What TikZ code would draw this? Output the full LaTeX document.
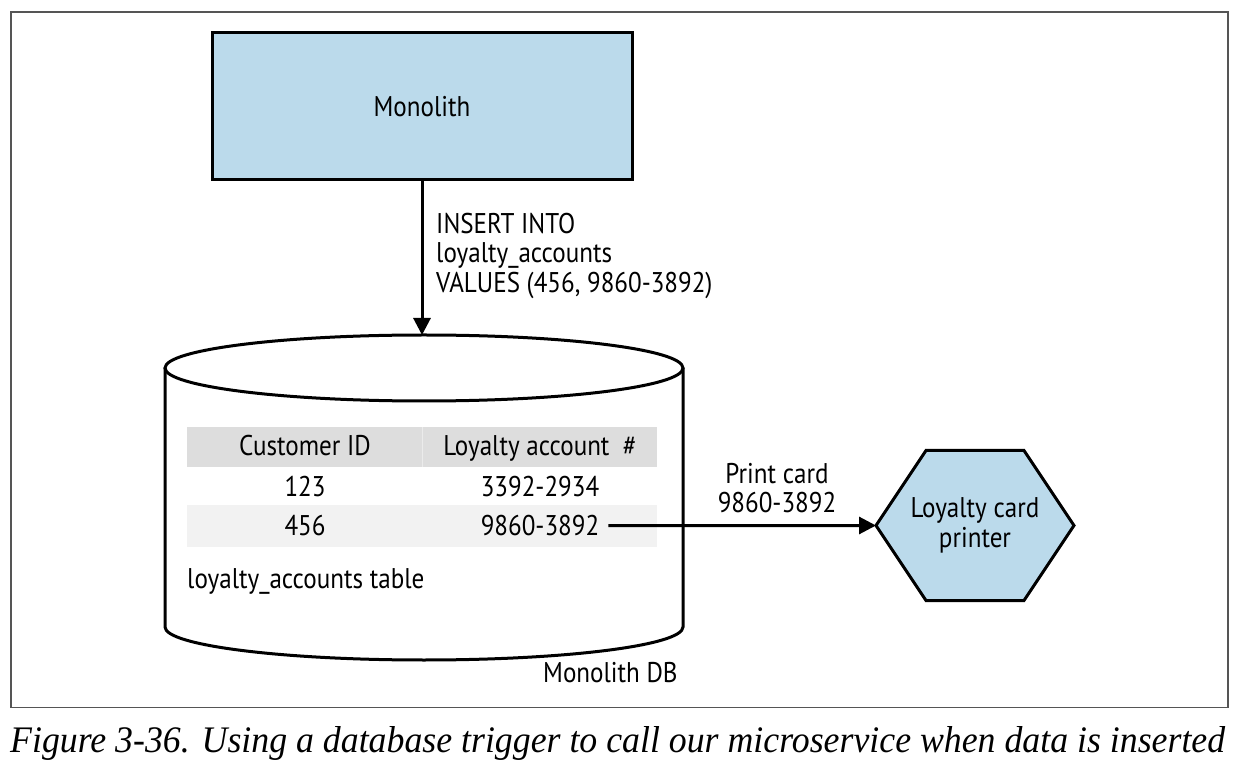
\documentclass[tikz,border=0pt]{standalone}
\usepackage{fontspec}
\setmainfont{PT Sans}[FakeStretch=0.88]
\newfontfamily\capfont{Liberation Serif}
\usetikzlibrary{arrows.meta,backgrounds}
\definecolor{boxblue}{HTML}{BBDAEB}
\definecolor{hdrgray}{HTML}{DDDDDD}
\definecolor{rowgray}{HTML}{F2F2F2}
\definecolor{framegray}{HTML}{555555}
\begin{document}
\begin{tikzpicture}[x=1pt,y=1pt,
  lbl/.style={font=\fontsize{28.5}{29.5}\selectfont, inner sep=0pt},
  thick3/.style={line width=3pt},
  conn/.style={line width=3pt, -{Triangle[length=17pt,width=17pt]}},
  blockbox/.style={draw, fill=boxblue, line width=3pt, inner sep=0pt, minimum width=420pt, minimum height=147pt},
  spacer/.style={inner sep=0pt, outer sep=0pt}]
\useasboundingbox (0,0) rectangle (1240,772);
% frame
\node[draw=framegray, line width=1.5pt, minimum width=1217pt, minimum height=695pt, inner sep=0pt, anchor=south west] (frame) at (10,64) {};
% monolith
\node[blockbox, lbl] (mono) at (422,665.5) {Monolith};
% database cylinder
\node[spacer, minimum width=518pt, minimum height=325pt] (db) at (424,274.5) {};
\draw[thick3] ([yshift=-33pt]db.north) ellipse [x radius=259, y radius=33];
\draw[thick3] ([yshift=-33pt]db.north west) -- ([yshift=33pt]db.south west)
  arc[start angle=180, end angle=360, x radius=259, y radius=33] -- ([yshift=-33pt]db.north east);
% table
\fill[hdrgray] (187,305) rectangle (657,345);
\draw[line width=0.6pt, color=hdrgray!60!white] (422,305) -- (422,345);
\fill[rowgray] (187,225) rectangle (657,267);
\node[lbl, anchor=base] (h1) at (305,316) {Customer ID};
\node[lbl, anchor=base] (h2) at (540,316) {Loyalty account\ \ \#};
\node[lbl, anchor=base] (r1a) at (305,276) {123};
\node[lbl, anchor=base] (r1b) at (540,276) {3392-2934};
\node[lbl, anchor=base] (r2a) at (305,236.5) {456};
\node[lbl, anchor=base] (r2b) at (540,236.5) {9860-3892};
\node[lbl, anchor=base west] (tname) at (187,184) {loyalty\_accounts table};
\node[lbl, anchor=base west] (dbname) at (543,90) {Monolith DB};
% hexagon
\node[spacer, minimum width=198pt, minimum height=150pt, lbl, align=center] (hex) at (975,246.5) {Loyalty card\\printer};
\begin{scope}[on background layer]
\draw[thick3, fill=boxblue, line join=miter] (hex.west) -- ([xshift=50pt]hex.north west) -- ([xshift=-50pt]hex.north east)
  -- (hex.east) -- ([xshift=-50pt]hex.south east) -- ([xshift=50pt]hex.south west) -- cycle;
\end{scope}
% connectors
\draw[conn] (mono.south) -- (mono.south |- db.north);
\node[lbl, align=left, anchor=north west] (ins) at (436,559) {INSERT INTO\\loyalty\_accounts\\VALUES (456, 9860-3892)};
\draw[conn] ([xshift=9pt]r2b.east) -- (hex.west);
\node[lbl, align=center, anchor=north] (pc) at (777,309) {Print card\\9860-3892};
% caption
\node[inner sep=0pt, anchor=base west] (cap) at (10,20) {\resizebox{1215pt}{26pt}{\capfont\itshape Figure 3-36. Using a database trigger to call our microservice when data is inserted}};
\end{tikzpicture}
\end{document}
